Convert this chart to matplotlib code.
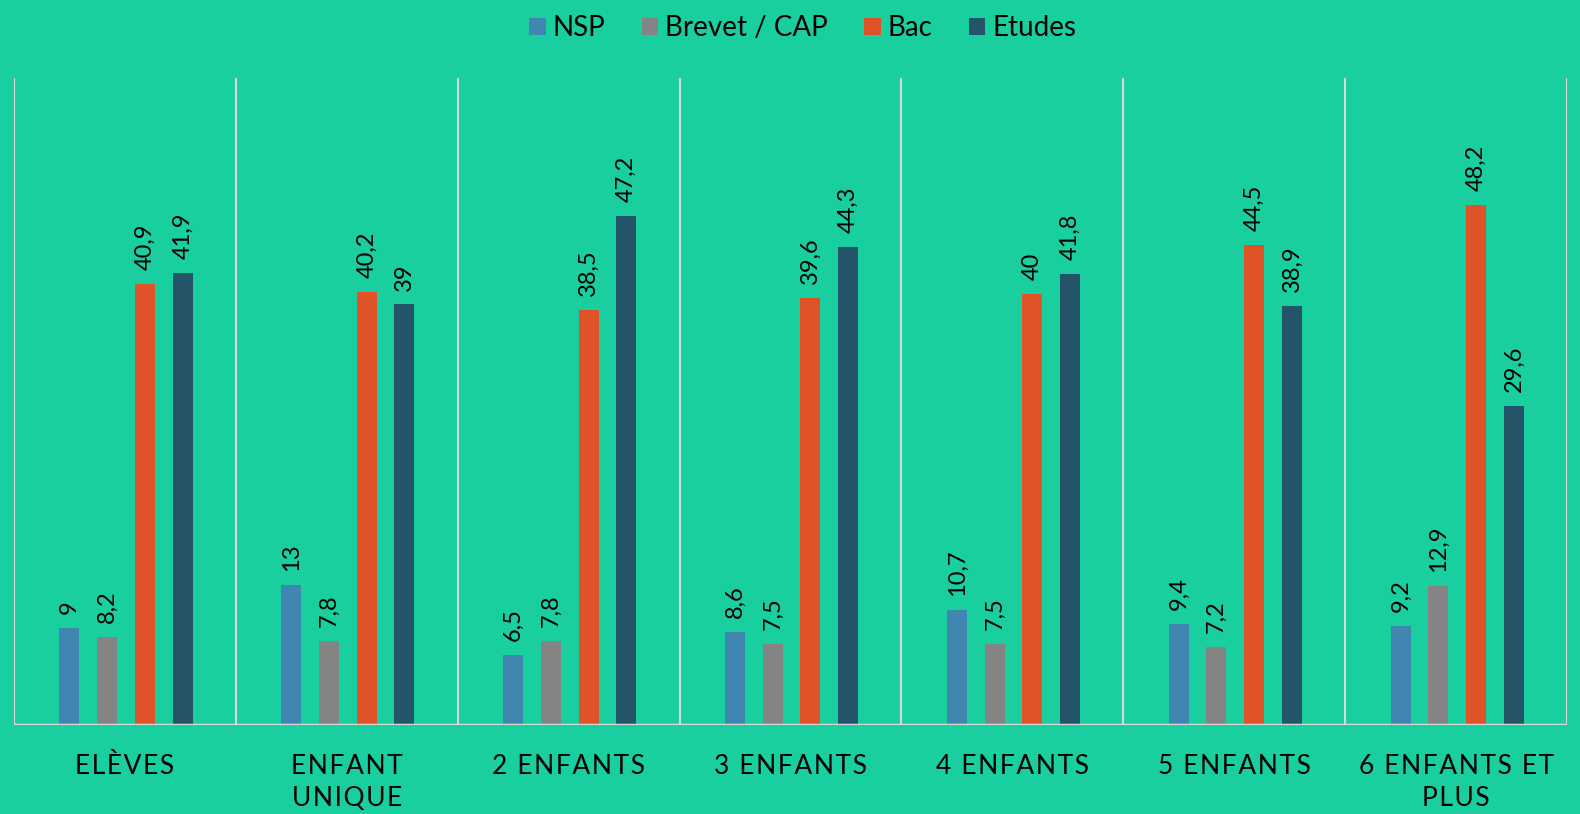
import matplotlib
matplotlib.use("Agg")
import matplotlib.pyplot as plt
import numpy as np
from matplotlib.patches import Patch

categories = ["ELÈVES", "ENFANT\nUNIQUE", "2 ENFANTS", "3 ENFANTS", "4 ENFANTS", "5 ENFANTS", "6 ENFANTS ET\nPLUS"]
series_names = ["NSP", "Brevet / CAP", "Bac", "Etudes"]
nsp = [9, 13, 6.5, 8.6, 10.7, 9.4, 9.2]
brevet = [8.2, 7.8, 7.8, 7.5, 7.5, 7.2, 12.9]
bac = [40.9, 40.2, 38.5, 39.6, 40, 44.5, 48.2]
etudes = [41.9, 39, 47.2, 44.3, 41.8, 38.9, 29.6]
colors = ["#4186B0", "#848484", "#E05228", "#245468"]
bg = "#19CFA0"

def fmt(v):
    return ("%g" % v).replace(".", ",")

def spaced(t):
    return "\n".join("\u200a".join(ch for ch in line) for line in t.split("\n"))

plt.rcParams['font.family'] = ['Lato', 'DejaVu Sans']
fig = plt.figure(figsize=(15.8, 8.14), dpi=100)
fig.patch.set_facecolor(bg)
ax = fig.add_axes([14/1580, 1-725/814, (1567-14)/1580, (725-78)/814])
ax.set_facecolor(bg)

n = len(categories)
x = np.arange(n)
offsets = [-0.25, -0.08, 0.09, 0.26]
width = 0.09
allser = [nsp, brevet, bac, etudes]
for i, (vals, c, name) in enumerate(zip(allser, colors, series_names)):
    ax.bar(x + offsets[i], vals, width, color=c, label=name, zorder=3)
    for xi, v in zip(x + offsets[i], vals):
        ax.annotate(fmt(v), (xi, v), xytext=(0, 10), textcoords="offset points",
                    rotation=90, ha="center", va="bottom", fontsize=17, color="black")

ax.set_xlim(-0.5, n - 0.5)
ax.set_ylim(0, 60)
for b in np.arange(-0.5, n, 1.0):
    ax.axvline(b, color="#D9D9D9", lw=1.5, zorder=1)
for s in ax.spines.values():
    s.set_visible(False)
ax.axhline(0, color="#D9D9D9", lw=2.5, zorder=4)
ax.set_yticks([])
ax.set_xticks(x)
ax.set_xticklabels([spaced(c) for c in categories], fontsize=19, linespacing=1.35)
ax.tick_params(axis="x", length=0, pad=21)

handles = [Patch(facecolor=c, label=nm) for c, nm in zip(colors, series_names)]
fig.legend(handles=handles, loc="upper center", bbox_to_anchor=(0.508, 1.012), ncol=4,
           frameon=False, fontsize=20, handlelength=0.6, handleheight=0.6,
           handletextpad=0.25, columnspacing=1.3)

fig.savefig("out.png", dpi=100, facecolor=bg)
